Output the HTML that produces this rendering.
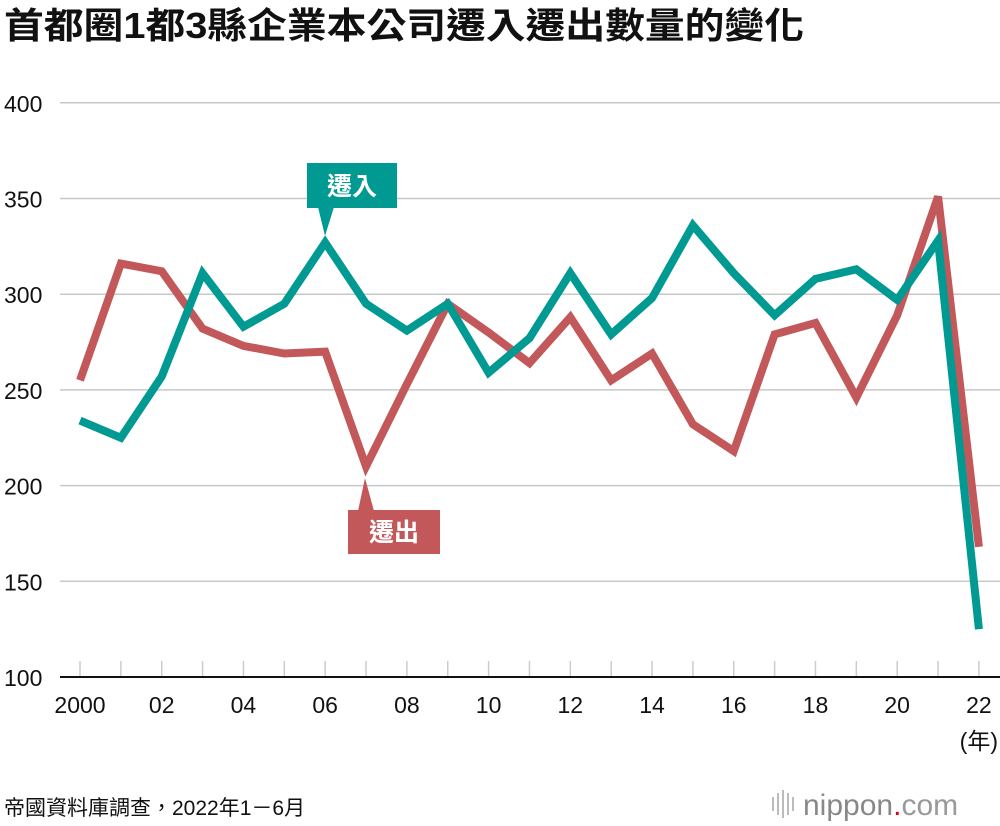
<!DOCTYPE html>
<html><head><meta charset="utf-8"><style>
body{margin:0;background:#fff;}
svg{display:block;font-family:"Liberation Sans","Noto Sans CJK TC",sans-serif;}
</style></head><body>
<svg id="chart" width="1000" height="826" viewBox="0 0 1000 826">
<text x="4" y="38" font-size="36" font-weight="bold" fill="#111" textLength="800" lengthAdjust="spacingAndGlyphs">首都圈1都3縣企業本公司遷入遷出數量的變化</text>
<g id="grid"></g><g id="lines"></g>
<g>
<rect x="307" y="163" width="90" height="45" fill="#009a93"/>
<polygon points="318,207 334,207 325,236" fill="#009a93"/>
<text x="352" y="195" font-size="25" fill="#fff" text-anchor="middle" font-weight="bold">遷入</text></g>
<g>
<rect x="348" y="510" width="92" height="44" fill="#c2585a"/>
<polygon points="358,511 374,511 365,478" fill="#c2585a"/>
<text x="394" y="541" font-size="25" fill="#fff" text-anchor="middle" font-weight="bold">遷出</text></g>
<text x="998" y="749" font-size="23" text-anchor="end" fill="#111">(年)</text>
<text x="4" y="815" font-size="21" fill="#111">帝國資料庫調查，2022年1－6月</text>
<g>
<g fill="#bbb"><rect x="772" y="797" width="2" height="14"/><rect x="777" y="793" width="2" height="22"/><rect x="782" y="790" width="2" height="28"/><rect x="787" y="793" width="2" height="22"/><rect x="792" y="797" width="2" height="14"/></g>
<text x="803" y="815" font-size="30" fill="#888">nippon<tspan fill="#e60012">.</tspan><tspan fill="#999">com</tspan></text></g>
</svg>
<script>
const years=[0,1,2,3,4,5,6,7,8,9,10,11,12,13,14,15,16,17,18,19,20,21,22];
const inbound=[234,225,257,311,283,295,327,295,281,295,259,277,311,279,298,336,311,289,308,313,297,328,125];
const outbound=[255,316,312,282,273,269,270,210,253,295,280,264,288,255,269,232,218,279,285,246,289,351,168];
const yTicks=[100,150,200,250,300,350,400];
const xLabels=["2000","02","04","06","08","10","12","14","16","18","20","22"];
const NS="http://www.w3.org/2000/svg";
const X=v=>80+v*40.86, Y=v=>677-(v-100)*1.914;
const grid=document.getElementById('grid'), lines=document.getElementById('lines');
function mk(tag,attrs,parent){const e=document.createElementNS(NS,tag);for(const k in attrs)e.setAttribute(k,attrs[k]);parent.appendChild(e);return e;}
yTicks.forEach(t=>{
  if(t>100){const l=mk('line',{x1:60,x2:1000,y1:Y(t),y2:Y(t),stroke:'#c8c8c8','stroke-width':1.5},grid);
  
  }
  const tx=mk('text',{x:4,y:Y(t)+9,'font-size':23,fill:'#111'},grid);tx.textContent=t;
  
  
});
years.forEach(v=>{const l=mk('line',{x1:X(v),x2:X(v),y1:661,y2:676,stroke:'#ccc','stroke-width':1.5},grid);
  
  });
const base=mk('line',{x1:60,x2:1000,y1:677,y2:677,stroke:'#111','stroke-width':2},grid);


xLabels.forEach((s,i)=>{const tx=mk('text',{x:X(i*2),y:713,'font-size':23,fill:'#111','text-anchor':'middle'},grid);tx.textContent=s;
  
  });
function line(vals,col,name){const p=mk('polyline',{points:vals.map((v,i)=>X(years[i])+','+Y(v)).join(' '),fill:'none',stroke:col,'stroke-width':8,'stroke-linejoin':'miter','stroke-miterlimit':3},lines);
  
  }
line(outbound,'#c2585a','series-outbound');
line(inbound,'#009a93','series-inbound');
</script>
</body></html>
